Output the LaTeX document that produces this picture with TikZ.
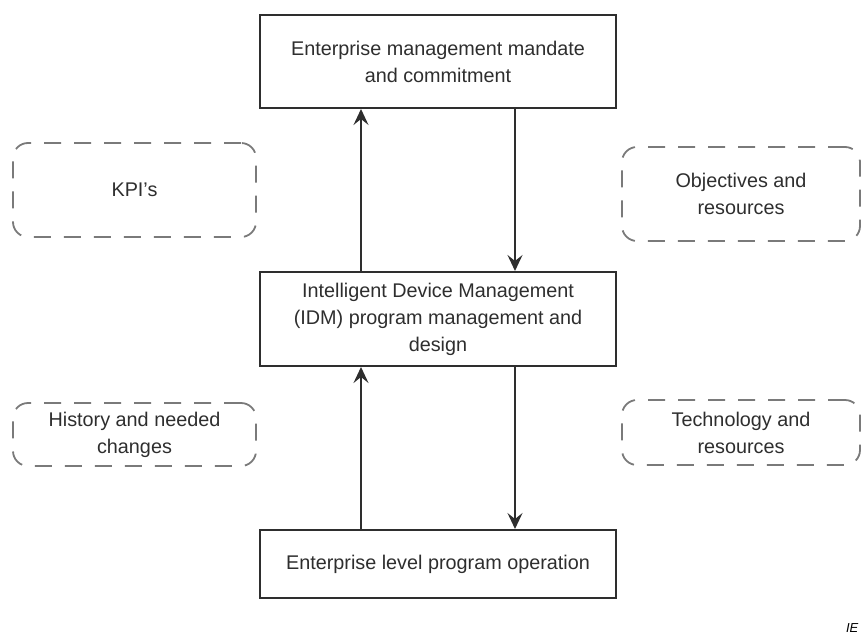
\documentclass[tikz,border=0pt]{standalone}
\usepackage{fontspec}
\setmainfont{Liberation Sans}
\usetikzlibrary{arrows.meta}

\definecolor{inkgray}{HTML}{2E2E2E}
\definecolor{dashgray}{HTML}{7A7A7A}

\tikzset{every picture/.style={line width=2pt}}
\tikzset{
  mainbox/.style={draw=inkgray, line width=2pt, minimum width=356pt, align=center,
    text=inkgray, inner sep=0pt, font=\fontsize{19.8}{27}\selectfont},
  infobox/.style={draw=dashgray, line width=1.8pt, rounded corners=15pt,
    dash pattern={on 17pt off 13pt}, align=center, text=inkgray, inner sep=0pt,
    font=\fontsize{19.8}{27}\selectfont},
  flow/.style={draw=inkgray, line width=2pt, -{Stealth[length=16pt,width=15pt,inset=6pt]}}
}

\begin{document}
\begin{tikzpicture}[x=1pt,y=1pt,yscale=-1,xscale=1]
			\useasboundingbox (0,0) rectangle (861,637); %set diagram size
			
			% Main boxes
			\node [mainbox, minimum height=93pt] (mandate) at (438,61.5) {Enterprise management mandate\\and commitment};
			\node [mainbox, minimum height=94pt] (idm) at (438,319) {Intelligent Device Management\\(IDM) program management and\\design};
			\node [mainbox, minimum height=68pt] (operation) at (438,564) {Enterprise level program operation};
			
			% Dashed boxes
			\node [infobox, minimum width=243pt, minimum height=94pt] (kpi) at (134.5,190) {KPI's};
			\node [infobox, minimum width=238pt, minimum height=94pt] (objectives) at (741,194) {Objectives and\\resources};
			\node [infobox, minimum width=243pt, minimum height=63pt] (history) at (134.5,434.5) {History and needed\\changes};
			\node [infobox, minimum width=238pt, minimum height=65pt] (technology) at (741,432.5) {Technology and\\resources};
			
			% Arrows
			\draw [flow] ([xshift=-77pt]idm.north) -- ([xshift=-77pt]mandate.south);
			\draw [flow] ([xshift=77pt]mandate.south) -- ([xshift=77pt]idm.north);
			\draw [flow] ([xshift=-77pt]operation.north) -- ([xshift=-77pt]idm.south);
			\draw [flow] ([xshift=77pt]idm.south) -- ([xshift=77pt]operation.north);
			
			% Text Node
			\draw (845,632) node [anchor=base west][inner sep=0pt] (tag) {\fontsize{13}{15}\selectfont\itshape IE};
\end{tikzpicture}
\end{document}
